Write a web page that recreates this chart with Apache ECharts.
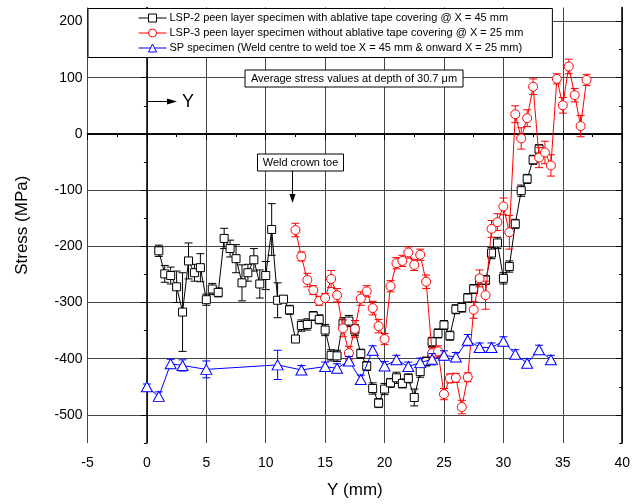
<!DOCTYPE html>
<html>
<head>
<meta charset="utf-8">
<title>Stress vs Y</title>
<script src="https://cdn.jsdelivr.net/npm/echarts@6.0.0/dist/echarts.min.js"></script>
<style>
  html, body { margin: 0; padding: 0; background: #fff; }
  #chart { width: 633px; height: 504px; }
</style>
</head>
<body>
<div id="chart"></div>
<script>
// LSP-2 peen layer, with ablative tape
var lsp2X = [1, 1.5, 2, 2.5, 3, 3.5, 4, 4.5, 5, 5.5, 6, 6.5, 7, 7.5, 8, 8.5, 9, 9.5, 10, 10.5,
             11, 11.5, 12, 12.5, 13, 13.5, 14, 14.5, 15, 15.5, 16, 16.5, 17, 17.5, 18, 18.5, 19, 19.5, 20, 20.5,
             21, 21.5, 22, 22.5, 23, 23.5, 24, 24.5, 25, 25.5, 26, 26.5, 27, 27.5, 28, 28.5, 29, 29.5, 30, 30.5,
             31, 31.5, 32, 32.5, 33];
var lsp2Y = [-208, -249, -252, -272, -317, -226, -247, -238, -295, -276, -282, -186, -204, -222, -265, -247, -224, -267, -252, -170,
             -296, -294, -313, -365, -341, -339, -324, -330, -349, -394, -395, -337, -333, -349, -391, -413, -453, -479, -454, -443,
             -434, -444, -435, -469, -423, -405, -370, -355, -340, -359, -312, -309, -292, -276, -260, -260, -212, -194, -257, -236,
             -160, -101, -80, -46, -27];
var lsp2Err = [10, 15, 15, 28, 70, 32, 15, 25, 10, 10, 8, 18, 15, 25, 32, 15, 20, 25, 25, 46,
               31, 6, 8, 5, 10, 10, 8, 8, 10, 10, 10, 10, 10, 10, 8, 8, 10, 8, 10, 8,
               10, 8, 8, 15, 10, 8, 8, 8, 8, 8, 8, 8, 8, 8, 8, 8, 10, 10, 10, 10,
               8, 10, 8, 8, 8];

// LSP-3 peen layer, without ablative tape
var lsp3X = [12.5, 13, 13.5, 14, 14.5, 15, 15.5, 16, 16.5, 17, 17.5, 18, 18.5, 19, 19.5, 20, 20.5, 21, 21.5, 22,
             22.5, 23, 23.5, 24, 24.5, 25, 25.5, 26, 26.5, 27, 27.5, 28, 28.5, 29, 29.5, 30, 30.5, 31, 31.5, 32,
             32.5, 33, 33.5, 34, 34.5, 35, 35.5, 36, 36.5, 37];
var lsp3Y = [-171, -218, -260, -278, -297, -292, -258, -287, -346, -390, -347, -293, -280, -310, -342, -365, -271, -230, -226, -211,
             -233, -215, -263, -390, -387, -463, -435, -434, -486, -433, -313, -257, -287, -169, -157, -129, -175, 35, -8, 28,
             84, -42, -33, -56, 98, 51, 120, 69, 14, 96];
var lsp3Err = [12, 8, 12, 8, 8, 8, 15, 12, 15, 12, 15, 12, 10, 12, 12, 10, 10, 10, 10, 10,
               10, 10, 12, 10, 10, 10, 8, 8, 12, 8, 15, 15, 25, 15, 15, 15, 30, 15, 19, 15,
               14, 18, 20, 19, 9, 14, 13, 12, 19, 10];

// SP specimen
var spX = [0, 1, 2, 3, 5, 11, 13, 15, 16, 17, 18, 19, 20, 21, 22, 23, 24, 25, 26, 27, 28, 29, 30, 31, 32, 33, 34];
var spY = [-450, -467, -409, -412, -419, -411, -420, -414, -417, -404, -437, -385, -413, -402, -414, -407, -401, -394, -397, -367,
           -380, -380, -369, -392, -408, -384, -402];
var spErr = [5, 8, 8, 10, 15, 26, 8, 8, 8, 8, 8, 8, 8, 8, 8, 8, 10, 8, 8, 10, 8, 8, 8, 8, 8, 8, 8];

var yMajorTicks = [-500, -400, -300, -200, -100, 0, 100, 200];
var yMinorTicks = [-550, -450, -350, -250, -150, -50, 50, 150];

var seriesNames = [
  'LSP-2 peen layer specimen with ablative tape covering @ X = 45 mm',
  'LSP-3 peen layer specimen without ablative tape covering @ X = 25 mm',
  'SP specimen (Weld centre to weld toe X = 45 mm & onward X = 25 mm)'
];

var FONT = "'Liberation Sans', Arial, sans-serif";

function pairs(xs, ys) {
  var out = [];
  for (var i = 0; i < xs.length; i++) out.push([xs[i], ys[i]]);
  return out;
}
function bars(xs, ys, es) {
  var out = [];
  for (var i = 0; i < xs.length; i++) out.push([xs[i], ys[i] - es[i], ys[i] + es[i]]);
  return out;
}
function errorBars(color) {
  return function (params, api) {
    var x = api.value(0);
    var lo = api.coord([x, api.value(1)]);
    var hi = api.coord([x, api.value(2)]);
    var w = 4;
    var st = { stroke: color, lineWidth: 1 };
    return {
      type: 'group',
      children: [
        { type: 'line', shape: { x1: lo[0], y1: lo[1], x2: hi[0], y2: hi[1] }, style: st },
        { type: 'line', shape: { x1: lo[0] - w, y1: lo[1], x2: lo[0] + w, y2: lo[1] }, style: st },
        { type: 'line', shape: { x1: hi[0] - w, y1: hi[1], x2: hi[0] + w, y2: hi[1] }, style: st }
      ]
    };
  };
}

var chart = echarts.init(document.getElementById('chart'));

var frame = { show: true, lineStyle: { color: '#000', width: 1.5 } };

var option = {
  backgroundColor: '#fff',
  animation: false,
  grid: { left: 87.5, right: 8, top: 7.5, bottom: 60 },
  legend: {
    data: seriesNames,
    orient: 'vertical',
    left: 88,
    top: 8.5,
    padding: [4, 29, 4, 50],
    itemGap: 4,
    itemWidth: 28,
    itemHeight: 10,
    backgroundColor: '#fff',
    borderColor: '#000',
    borderWidth: 1,
    lineStyle: { width: 1 },
    itemStyle: { borderWidth: 1 },
    textStyle: { fontFamily: FONT, fontSize: 11, color: '#000', padding: [0, 0, 0, -2] }
  },
  xAxis: [{
    type: 'value', min: -5, max: 40, interval: 5, position: 'bottom',
    name: 'Y (mm)', nameLocation: 'middle', nameGap: 39,
    nameTextStyle: { fontFamily: FONT, fontSize: 17, color: '#000' },
    axisLine: frame,
    axisTick: { show: true, length: 6, lineStyle: { color: '#000' } },
    minorTick: { show: true, splitNumber: 2, length: 3, lineStyle: { color: '#000' } },
    axisLabel: { fontFamily: FONT, fontSize: 14, color: '#000', margin: 13 },
    splitLine: { show: true, lineStyle: { color: '#444', width: 1 } }
  }, {
    type: 'value', min: -5, max: 40, interval: 5, position: 'top',
    axisLine: frame,
    axisTick: { show: true, inside: true, length: 6, lineStyle: { color: '#000' } },
    minorTick: { show: true, splitNumber: 2, length: 3, lineStyle: { color: '#000' } },
    axisLabel: { show: false },
    splitLine: { show: false }
  }],
  yAxis: [{
    type: 'value', min: -550, max: 225, position: 'left',
    name: 'Stress (MPa)', nameLocation: 'middle', nameGap: 57,
    nameTextStyle: { fontFamily: FONT, fontSize: 17, color: '#000' },
    axisLine: frame,
    axisTick: { show: true, length: 6, customValues: yMajorTicks, lineStyle: { color: '#000' } },
    axisLabel: { customValues: yMajorTicks, fontFamily: FONT, fontSize: 14, color: '#000', margin: 5 },
    splitLine: { show: true, lineStyle: { color: '#444', width: 1 } }
  }, {
    type: 'value', min: -550, max: 225, position: 'left',
    axisLine: { show: false },
    axisTick: { show: true, length: 3, customValues: yMinorTicks, lineStyle: { color: '#000' } },
    axisLabel: { show: false },
    splitLine: { show: false }
  }, {
    type: 'value', min: -550, max: 225, position: 'right',
    axisLine: frame,
    axisTick: { show: true, inside: true, length: 6, customValues: yMajorTicks, lineStyle: { color: '#000' } },
    axisLabel: { show: false },
    splitLine: { show: false }
  }, {
    type: 'value', min: -550, max: 225, position: 'right',
    axisLine: { show: false },
    axisTick: { show: true, inside: true, length: 3, customValues: yMinorTicks, lineStyle: { color: '#000' } },
    axisLabel: { show: false },
    splitLine: { show: false }
  }],
  series: [
    {
      type: 'custom', renderItem: errorBars('#000'), data: bars(lsp2X, lsp2Y, lsp2Err),
      encode: { x: 0, y: [1, 2] }, z: 2, silent: true
    },
    {
      name: seriesNames[0], type: 'line', data: pairs(lsp2X, lsp2Y), z: 3,
      symbol: 'rect', symbolSize: 8,
      lineStyle: { color: '#000', width: 1 },
      itemStyle: { color: '#fff', borderColor: '#000', borderWidth: 1 }
    },
    {
      type: 'custom', renderItem: errorBars('#ff0000'), data: bars(lsp3X, lsp3Y, lsp3Err),
      encode: { x: 0, y: [1, 2] }, z: 4, silent: true
    },
    {
      name: seriesNames[1], type: 'line', data: pairs(lsp3X, lsp3Y), z: 5,
      symbol: 'circle', symbolSize: 9,
      lineStyle: { color: '#ff0000', width: 1 },
      itemStyle: { color: '#fff', borderColor: '#ff0000', borderWidth: 1 }
    },
    {
      type: 'custom', renderItem: errorBars('#0000ff'), data: bars(spX, spY, spErr),
      encode: { x: 0, y: [1, 2] }, z: 6, silent: true
    },
    {
      name: seriesNames[2], type: 'line', data: pairs(spX, spY), z: 7,
      symbol: 'triangle', symbolSize: [11, 10],
      lineStyle: { color: '#0000ff', width: 1 },
      itemStyle: { color: '#fff', borderColor: '#0000ff', borderWidth: 1 }
    }
  ],
  graphic: [
    // depth note
    { type: 'rect', shape: { x: 245, y: 70, width: 218, height: 17 },
      style: { fill: '#fff', stroke: '#000', lineWidth: 1 }, z: 10 },
    { type: 'text', x: 354, y: 78.5, z: 11,
      style: { text: 'Average stress values at depth of 30.7 μm', font: '11px ' + FONT,
               fill: '#000', align: 'center', verticalAlign: 'middle' } },
    // weld crown toe
    { type: 'rect', shape: { x: 257.5, y: 154, width: 86, height: 17 },
      style: { fill: '#fff', stroke: '#000', lineWidth: 1 }, z: 10 },
    { type: 'text', x: 300.5, y: 162.5, z: 11,
      style: { text: 'Weld crown toe', font: '11px ' + FONT,
               fill: '#000', align: 'center', verticalAlign: 'middle' } },
    { type: 'line', shape: { x1: 292.5, y1: 171, x2: 292.5, y2: 196 },
      style: { stroke: '#000', lineWidth: 1 }, z: 10 },
    { type: 'polygon', shape: { points: [[289.5, 194], [295.5, 194], [292.5, 203]] },
      style: { fill: '#000' }, z: 10 },
    // direction marker
    { type: 'line', shape: { x1: 147, y1: 101.5, x2: 170, y2: 101.5 },
      style: { stroke: '#000', lineWidth: 1 }, z: 10 },
    { type: 'polygon', shape: { points: [[167, 98.5], [167, 104.5], [177, 101.5]] },
      style: { fill: '#000' }, z: 10 },
    { type: 'text', x: 182, y: 102, z: 11,
      style: { text: 'Y', font: '18px ' + FONT, fill: '#000', align: 'left', verticalAlign: 'middle' } }
  ]
};

chart.setOption(option);
</script>
</body>
</html>
